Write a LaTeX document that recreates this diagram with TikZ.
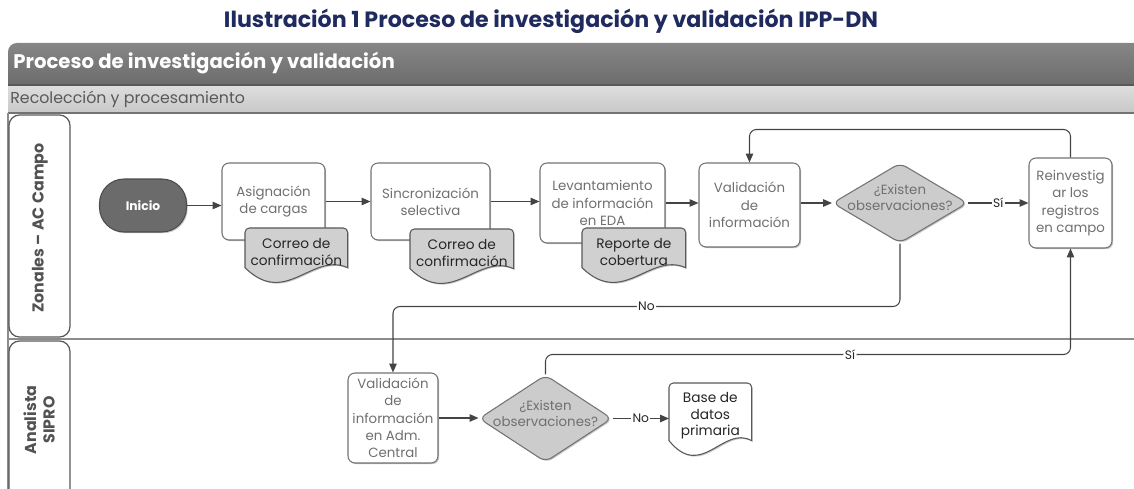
\documentclass[tikz,border=0pt]{standalone}
\usepackage{fontspec}
\setmainfont{Poppins}
\usetikzlibrary{arrows.meta,shapes.geometric,shadows,calc}
\pgfdeclarelayer{front}
\pgfsetlayers{main,front}
\definecolor{navy}{HTML}{1F2A5E}
\definecolor{hdrtop}{HTML}{868686}
\definecolor{hdrbot}{HTML}{666666}
\definecolor{subtop}{HTML}{DEDEDE}
\definecolor{subbot}{HTML}{C8C8C8}
\definecolor{boxtext}{HTML}{707070}
\definecolor{linec}{HTML}{444444}
\definecolor{docfill}{HTML}{D0D0D0}
\definecolor{framec}{HTML}{8C8C8C}
\tikzset{
 shad/.style={drop shadow={shadow xshift=0.7pt,shadow yshift=-0.7pt,opacity=0.22,fill=black}},
 procbox/.style={draw=black!55, line width=0.6pt, fill=white, rounded corners=4pt, align=center,
   font=\fontsize{7.6}{9.9}\selectfont, text=boxtext, inner sep=1pt, shad},
 startnode/.style={draw=black!70, line width=0.6pt, fill=black!58, rounded corners=14pt,
   font=\fontsize{7}{8}\selectfont\bfseries, text=white, shad},
 decision/.style={diamond, draw=black!55, fill=black!20, rounded corners=4pt, inner sep=0pt,
   line width=0.6pt, font=\fontsize{7.6}{9.3}\selectfont, text=boxtext, shad},
 docnode/.style={align=center, font=\fontsize{7.8}{9.6}\selectfont, text=black!85, inner sep=0pt},
 docshape/.style={draw=black!65, line width=0.6pt, shad},
 flow/.style={draw=linec, line width=0.6pt, -{Triangle[length=5pt,width=4.2pt]}},
 edgelbl/.style={fill=white, inner sep=0.8pt, font=\fontsize{7}{8}\selectfont, text=black!85},
 lanebox/.style={draw=black!65, line width=0.7pt, fill=white, rounded corners=6pt},
 lanelbl/.style={font=\fontsize{9}{10.5}\selectfont\bfseries, text=black!68, align=center, rotate=90},
}
\newcommand\docoutline[3]{% node, fill, width(px)
  \draw[docshape, fill=#2] ($(#1.south east)+(0,-8)$) [rounded corners=2.5pt] -- (#1.north east)
    -- (#1.north west) [sharp corners] -- ($(#1.south west)+(0,-8)$)
    .. controls +(0.4*#3,40) and +(-0.35*#3,-16) .. ($(#1.south east)+(0,-8)$) -- cycle;}
\begin{document}
\begin{tikzpicture}[x=0.02cm,y=-0.02cm]
\useasboundingbox (0,0) rectangle (1134,489);
\clip (0,0) rectangle (1134,489);
% title
\node[font=\fontsize{12.6}{14}\selectfont\bfseries, text=navy] (title) at (551,21)
  {Ilustración 1 Proceso de investigación y validación IPP-DN};
% header bars
\shade[top color=hdrtop, bottom color=hdrbot, rounded corners=5pt] (8,43) rectangle (1150,95);
\shade[top color=subtop, bottom color=subbot] (8,85) rectangle (1150,113);
\draw[black!65, line width=0.8pt] (8,85) -- (1150,85);
\draw[black!55, line width=0.9pt] (8,113) -- (1150,113);
\node[anchor=base west, font=\fontsize{11.2}{13}\selectfont\bfseries, text=white, inner sep=0pt]
  (hdr) at (13,69) {Proceso de investigación y validación};
\node[anchor=base west, font=\fontsize{9}{10}\selectfont, text=black!65, inner sep=0pt]
  (sub) at (10,104) {Recolección y procesamiento};
% lanes
\draw[framec, line width=1pt] (8,113) -- (8,500);
\draw[framec, line width=1.3pt] (8,339) -- (1150,339);
\draw[lanebox] (9,115) rectangle (70,337);
\draw[lanebox] (9,341) rectangle (70,520);
\node[lanelbl] (lane1) at (40,228) {Zonales – AC Campo};
\node[lanelbl] (lane2) at (39,420) {Analista\\SIPRO};
% process nodes
\node[startnode, minimum width=1.74cm, minimum height=1.06cm] (inicio) at (143,205.5) {Inicio};
\node[procbox, minimum width=2.06cm, minimum height=1.54cm] (asig) at (273.5,201.5) {Asignación\\de cargas};
\node[procbox, minimum width=2.38cm, minimum height=1.54cm] (sinc) at (430.5,201.5) {Sincronización\\selectiva};
\node[procbox, minimum width=2.5cm, minimum height=1.6cm] (lev) at (602.5,203) {Levantamiento\\de información\\en EDA};
\node[procbox, minimum width=2.02cm, minimum height=1.68cm] (val) at (749.5,205) {Validación\\de\\información};
\node[decision, minimum width=2.7cm, minimum height=1.6cm] (d1) at (900,203)
  {\smash{\makebox[0pt]{\begin{tabular}{@{}c@{}}¿Existen\\observaciones?\end{tabular}}}};
\node[procbox, minimum width=1.66cm, minimum height=1.8cm] (reinv) at (1070.5,203) {Reinvestig\\ar los\\registros\\en campo};
\node[procbox, minimum width=1.8cm, minimum height=1.8cm] (val2) at (393,418) {Validación\\de\\información\\en Adm.\\Central};
\node[decision, minimum width=2.66cm, minimum height=1.74cm] (d2) at (545.5,418.5)
  {\smash{\makebox[0pt]{\begin{tabular}{@{}c@{}}¿Existen\\observaciones?\end{tabular}}}};
% documents
\begin{pgfonlayer}{front}
\node[docnode, anchor=north west, minimum width=2.04cm, minimum height=0.94cm] (doc1) at (245,228) {Correo de\\confirmación};
\node[docnode, anchor=north west, minimum width=2.06cm, minimum height=0.94cm] (doc2) at (410,229) {Correo de\\confirmación};
\node[docnode, anchor=north west, minimum width=2.06cm, minimum height=0.94cm] (doc3) at (582,228) {Reporte de\\cobertura};
\node[docnode, anchor=north west, minimum width=1.64cm, minimum height=1.3cm] (base) at (669,383) {Base de\\datos\\primaria};
\end{pgfonlayer}
\docoutline{doc1}{docfill}{102}
\docoutline{doc2}{docfill}{103}
\docoutline{doc3}{docfill}{103}
\docoutline{base}{white}{82}
% connectors
\draw[flow] (inicio.east) -- (inicio.east -| asig.west);
\draw[flow] (asig) -- (sinc);
\draw[flow] (sinc.east) -- (sinc.east -| lev.west);
\draw[flow] (lev.east) -- (lev.east -| val.west);
\draw[flow] (val.east |- d1.west) -- (d1.west);
\draw[flow] (d1.east) -- node[edgelbl]{Sí} (d1.east -| reinv.west);
\draw[flow, rounded corners=4pt] (reinv.north) -- ++(0,-28) -| (val.north);
\draw[flow, rounded corners=4pt] (d1.south) -- ++(0,63) -| node[edgelbl, pos=0.25]{No} (val2.north);
\draw[flow] (val2) -- (val2 -| d2.west);
\draw[flow] (d2.east) -- node[edgelbl]{No} (d2.east -| base.west);
\draw[flow, rounded corners=4pt] (d2.north) -- ++(0,-20) -| node[edgelbl, pos=0.29]{Sí} (reinv.south);
\end{tikzpicture}
\end{document}
